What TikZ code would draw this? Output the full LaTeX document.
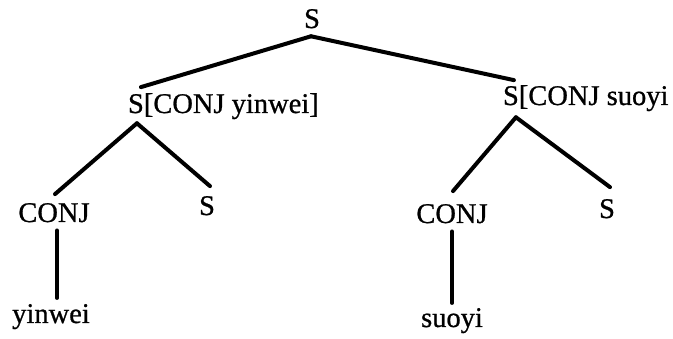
\documentclass[tikz,border=0pt]{standalone}
\usepackage{fontspec}
\setmainfont{Liberation Serif}
\begin{document}
\begin{tikzpicture}[x=1pt,y=-1pt,
  lab/.style={inner sep=0pt, outer sep=0pt, font=\fontsize{28.5}{30}\selectfont\addfontfeature{FakeBold=0.8}, anchor=base},
  edge/.style={line width=4pt, line cap=round},
  vedge/.style={line width=3.6pt, line cap=round}]
\useasboundingbox (0,0) rectangle (673,339);
% nodes
\node[lab] (top) at (312,28) {S};
\node[lab, anchor=base west] (ls) at (128,113) {S};
\node[lab, anchor=base west] (lsr) at (ls.base east) {[CONJ yinwei]};
\node[lab, anchor=base west] (rs) at (503,105) {S};
\node[lab, anchor=base west] (rsr) at (rs.base east) {[CONJ suoyi};
\node[lab] (lc) at (54,222) {CONJ};
\node[lab] (lS) at (207,215) {S};
\node[lab] (yw) at (51,323) {yinwei};
\node[lab] (rc) at (452,223) {CONJ};
\node[lab] (rS) at (607,218) {S};
\node[lab] (sy) at (452,327) {suoyi};
% connectors
\draw[edge] ([xshift=-1pt,yshift=-8pt]top.south) -- ([xshift=5pt,yshift=7pt]ls.north);
\draw[edge] ([xshift=-1pt,yshift=-8pt]top.south) -- ([xshift=3pt,yshift=6pt]rs.north);
\draw[edge] ([xshift=1pt,yshift=-10pt]ls.south) -- ([xshift=1pt,yshift=9pt]lc.north);
\draw[edge] ([xshift=1pt,yshift=-10pt]ls.south) -- ([xshift=3pt,yshift=10pt]lS.north);
\draw[edge] ([xshift=5pt,yshift=-12pt]rs.south) -- ([xshift=1pt,yshift=13pt]rc.north);
\draw[edge] ([xshift=5pt,yshift=-12pt]rs.south) -- ([xshift=3pt,yshift=12pt]rS.north);
\draw[vedge] ([xshift=3pt,yshift=-8pt]lc.south) -- ([xshift=3pt,yshift=6pt]lc.south |- yw.north);
\draw[vedge] ([yshift=-8pt]rc.south) -- ([yshift=5pt]rc.south |- sy.north);
\end{tikzpicture}
\end{document}
